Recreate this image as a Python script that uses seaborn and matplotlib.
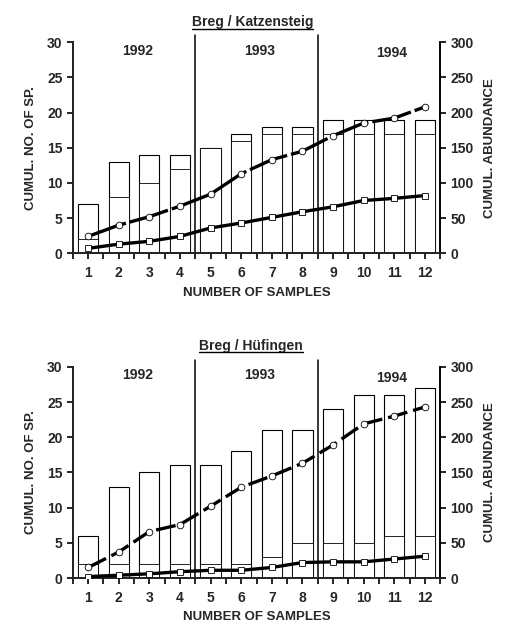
import numpy as np
import pandas as pd
import matplotlib
matplotlib.use("Agg")
import matplotlib.pyplot as plt
from matplotlib.lines import Line2D
import seaborn as sns

samples = [str(i) for i in range(1, 13)]
years = ["1992", "1993", "1994"]

# Breg / Katzensteig
katz_species_total = [7, 13, 14, 14, 15, 17, 18, 18, 19, 19, 19, 19]
katz_species_sub = [2, 8, 10, 12, 15, 16, 17, 17, 17, 17, 17, 17]
katz_abund_circle = [24, 40, 52, 67, 84, 113, 133, 145, 167, 185, 192, 208]
katz_abund_square = [7, 13, 17, 24, 36, 43, 51, 59, 66, 75, 78, 82]

# Breg / Hüfingen
huef_species_total = [6, 13, 15, 16, 16, 18, 21, 21, 24, 26, 26, 27]
huef_species_sub = [2, 2, 2, 2, 2, 2, 3, 5, 5, 5, 6, 6]
huef_abund_circle = [15, 37, 66, 76, 102, 129, 145, 163, 189, 219, 230, 243]
huef_abund_square = [2, 4, 6, 9, 11, 11, 15, 22, 23, 23, 27, 31]

sns.set_theme(style="white")
plt.rcParams["font.family"] = ["Liberation Sans", "DejaVu Sans"]
plt.rcParams["font.weight"] = "bold"

FS = 9.5
TS = 10


def draw_panel(fig, rect, total, sub, circ, squ, year_y, dash):
    ax = fig.add_axes(rect)
    df = pd.DataFrame({"sample": samples, "total": total, "sub": sub})
    sns.barplot(data=df, x="sample", y="total", color="white", edgecolor="black",
                linewidth=0.8, width=0.66, ax=ax, saturation=1)
    sns.barplot(data=df, x="sample", y="sub", color="white", edgecolor="black",
                linewidth=0.6, width=0.66, ax=ax, saturation=1)
    ax.set_xlim(-0.5, 11.5)
    ax.set_ylim(0, 30)
    ax.set_yticks(range(0, 31, 5))
    ax.set_xlabel("NUMBER OF SAMPLES", fontsize=FS, fontweight="bold", labelpad=5)
    ax.set_ylabel("CUMUL. NO. OF SP.", fontsize=FS, fontweight="bold", labelpad=7)
    ax.spines["top"].set_visible(False)
    for s in ["left", "bottom", "right"]:
        ax.spines[s].set_color("black")
        ax.spines[s].set_linewidth(1.2)
    ax.set_xticks(np.arange(-0.5, 12, 1), minor=True)
    ax.tick_params(axis="both", which="both", direction="out", color="black",
                   labelsize=TS, length=4, width=1.2, bottom=True, left=True)
    ax.tick_params(axis="x", pad=5)
    for lbl in ax.get_xticklabels() + ax.get_yticklabels():
        lbl.set_fontweight("bold")

    for xv in [3.5, 7.5]:
        ax.plot([xv, xv], [0, 31], color="black", lw=1.1, clip_on=False, zorder=5)

    for xv, yr, yy in zip([1.6, 5.6, 9.9], years, year_y):
        ax.text(xv, yy, yr, ha="center", va="center", fontsize=TS, fontweight="bold")

    ax2 = ax.twinx()
    xs = np.arange(12)
    ldf = pd.DataFrame({"x": np.concatenate([xs, xs]),
                        "y": circ + squ,
                        "kind": ["circ"] * 12 + ["squ"] * 12})
    sns.lineplot(data=ldf[ldf["kind"] == "circ"], x="x", y="y", ax=ax2, color="black",
                 lw=2.4, marker="o", markersize=4.8, markerfacecolor="white",
                 markeredgecolor="black", markeredgewidth=0.6, dashes=False,
                 linestyle=(0, dash), zorder=6)
    sns.lineplot(data=ldf[ldf["kind"] == "squ"], x="x", y="y", ax=ax2, color="black",
                 lw=2.4, marker="s", markersize=4.8, markerfacecolor="white",
                 markeredgecolor="black", markeredgewidth=0.6, zorder=6)
    ax2.set_ylim(0, 300)
    ax2.set_yticks(range(0, 301, 50))
    ax2.set_xlim(-0.5, 11.5)
    ax2.set_ylabel("CUMUL. ABUNDANCE", fontsize=FS, fontweight="bold", labelpad=7)
    ax2.set_xlabel("")
    ax2.spines["top"].set_visible(False)
    ax2.spines["right"].set_color("black")
    ax2.spines["right"].set_linewidth(1.2)
    ax2.tick_params(axis="y", direction="out", right=True, color="black",
                    labelsize=TS, length=4, width=1.2)
    for lbl in ax2.get_yticklabels():
        lbl.set_fontweight("bold")
    ax2.grid(False)
    ax.grid(False)
    return ax


fig = plt.figure(figsize=(5.13, 6.38), dpi=100)
fig.patch.set_facecolor("white")

draw_panel(fig, [0.142, 0.603, 0.716, 0.331],
           katz_species_total, katz_species_sub, katz_abund_circle,
           katz_abund_square, [28.7, 28.7, 28.4], (12, 1.2))
draw_panel(fig, [0.142, 0.094, 0.716, 0.331],
           huef_species_total, huef_species_sub, huef_abund_circle,
           huef_abund_square, [28.9, 28.9, 28.4], (6, 1.8))

t1 = fig.text(0.492, 0.9655, "Breg / Katzensteig", ha="center", va="center",
              fontsize=FS + 0.5, fontweight="bold")
t2 = fig.text(0.489, 0.4577, "Breg / Hüfingen", ha="center", va="center",
              fontsize=FS + 0.5, fontweight="bold")

# underline the titles
fig.canvas.draw()
r = fig.canvas.get_renderer()
for t, uy in [(t1, 0.9545), (t2, 0.4475)]:
    bb = t.get_window_extent(renderer=r).transformed(fig.transFigure.inverted())
    fig.add_artist(Line2D([bb.x0, bb.x1], [uy, uy], transform=fig.transFigure,
                          color="black", lw=1.0, zorder=10))

fig.savefig("out.png", dpi=100, facecolor="white")
